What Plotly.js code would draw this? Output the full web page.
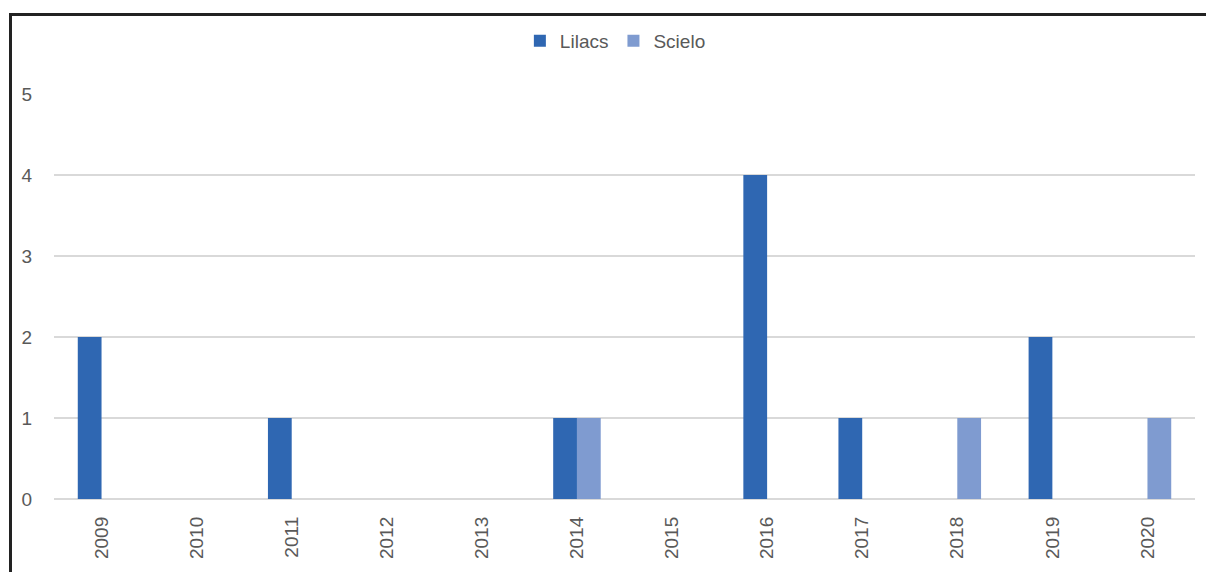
<!DOCTYPE html>
<html>
<head>
<meta charset="utf-8">
<script src="https://cdn.plot.ly/plotly-3.0.1.min.js"></script>
<style>
html,body{margin:0;padding:0;background:#fff;overflow:hidden;width:1206px;height:572px;}
#chart{position:absolute;left:0;top:0;width:1206px;height:572px;}
#frame{position:absolute;left:9px;top:13px;width:1300px;height:700px;border:3px solid #222;pointer-events:none;box-sizing:border-box;}
</style>
</head>
<body>
<div id="chart"></div>
<div id="frame"></div>
<script>
const years = ['2009','2010','2011','2012','2013','2014','2015','2016','2017','2018','2019','2020'];
const lilacs = [2,0,1,0,0,1,0,4,1,0,2,0];
const scielo = [0,0,0,0,0,1,0,0,0,1,0,1];
const seriesNames = ['Lilacs','Scielo'];
const yTicks = [0,1,2,3,4,5];

const fontFam = '"Liberation Sans", Arial, sans-serif';
const data = [
  {type:'bar', name:seriesNames[0], x:years, y:lilacs,
   marker:{color:'#2F67B2', line:{width:0}}},
  {type:'bar', name:seriesNames[1], x:years, y:scielo,
   marker:{color:'#7F9BD0', line:{width:0}}}
];
const layout = {
  width:1206, height:572,
  margin:{l:54, r:11, t:94, b:73, pad:0},
  paper_bgcolor:'#fff', plot_bgcolor:'#fff',
  barmode:'group', bargap:0.5, bargroupgap:0,
  showlegend:true,
  legend:{orientation:'h', x:0.492, xref:'paper', xanchor:'center', y:1-41/572, yref:'container', yanchor:'middle',
          font:{family:fontFam, size:19, color:'#595959'}, itemwidth:20, traceorder:'normal'},
  font:{family:fontFam, size:19, color:'#595959'},
  xaxis:{type:'category', tickangle:-90, showgrid:false, zeroline:false, showline:false,
         ticks:'', ticklabelstandoff:13, tickfont:{family:fontFam, size:19, color:'#595959'}},
  yaxis:{range:[0,5], tickvals:yTicks, ticktext:yTicks.map(String), showgrid:true, gridcolor:'#d9d9d9', gridwidth:1.3,
         zeroline:true, zerolinecolor:'#d9d9d9', zerolinewidth:1.3, showline:false, ticks:'',
         ticklabelstandoff:21, tickfont:{family:fontFam, size:19, color:'#595959'}}
};
Plotly.newPlot('chart', data, layout, {displayModeBar:false, staticPlot:true});
</script>
</body>
</html>
